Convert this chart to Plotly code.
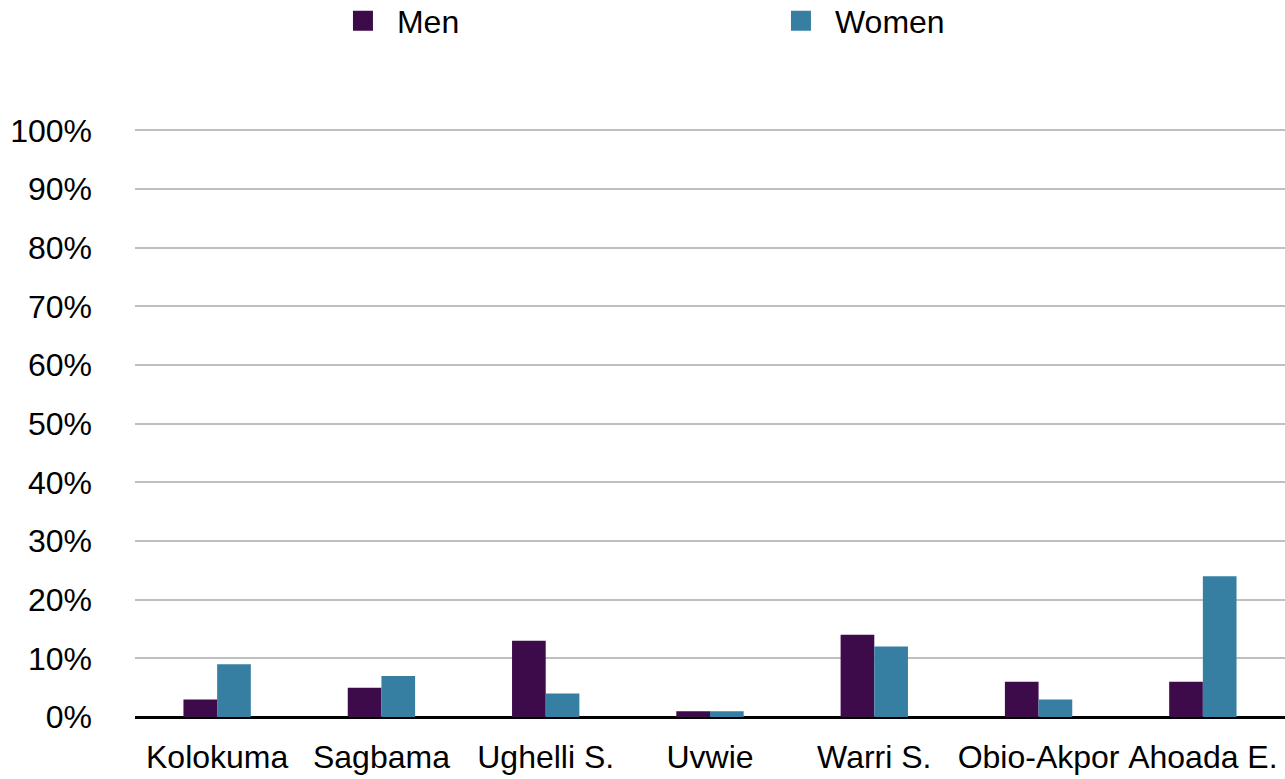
import plotly.graph_objects as go

categories = ["Kolokuma", "Sagbama", "Ughelli S.", "Uvwie", "Warri S.", "Obio-Akpor", "Ahoada E."]
men = [3, 5, 13, 1, 14, 6, 6]
women = [9, 7, 4, 1, 12, 3, 24]
y_ticks = [0, 10, 20, 30, 40, 50, 60, 70, 80, 90, 100]
y_tick_labels = [f"{v}%" for v in y_ticks]

MEN_COLOR = "#3d0b49"
WOMEN_COLOR = "#367fa2"
FONT = "Liberation Sans, Arial, sans-serif"

fig = go.Figure()
fig.add_trace(go.Bar(x=categories, y=men, name="Men", marker_color=MEN_COLOR,
                     marker_line_width=0, showlegend=False))
fig.add_trace(go.Bar(x=categories, y=women, name="Women", marker_color=WOMEN_COLOR,
                     marker_line_width=0, showlegend=False))
# legend entries with large square symbols
fig.add_trace(go.Scatter(x=[None], y=[None], mode="markers", name="Men",
                         marker=dict(symbol="square", size=16, color=MEN_COLOR,
                                     line=dict(color=MEN_COLOR, width=4))))
fig.add_trace(go.Scatter(x=[None], y=[None], mode="markers", name="Women",
                         marker=dict(symbol="square", size=16, color=WOMEN_COLOR,
                                     line=dict(color=WOMEN_COLOR, width=4))))

fig.update_layout(
    width=1285, height=779,
    margin=dict(l=135, r=0, t=128, b=62),
    paper_bgcolor="white", plot_bgcolor="white",
    font=dict(family=FONT, size=32, color="black"),
    barmode="group", bargap=0.59, bargroupgap=0,
    legend=dict(orientation="h", xref="container", yref="container",
                x=0.256, y=0.973, xanchor="left", yanchor="middle",
                itemwidth=58,
                entrywidth=365, entrywidthmode="pixels",
                font=dict(family=FONT, size=32, color="black")),
    xaxis=dict(showgrid=False, showline=False, ticks="", ticklabelstandoff=18,
               automargin=False, tickfont=dict(family=FONT, size=32)),
    yaxis=dict(range=[0, 100.4], tickvals=y_ticks, ticktext=y_tick_labels,
               showgrid=True, gridcolor="#bfbfbf", gridwidth=2,
               zeroline=True, zerolinecolor="black", zerolinewidth=3,
               showline=False, ticks="", ticklabelstandoff=42,
               automargin=False, tickfont=dict(family=FONT, size=32)),
)

fig.write_html("out.html", config={"displayModeBar": False},
               post_script="document.body.style.margin='0';")
